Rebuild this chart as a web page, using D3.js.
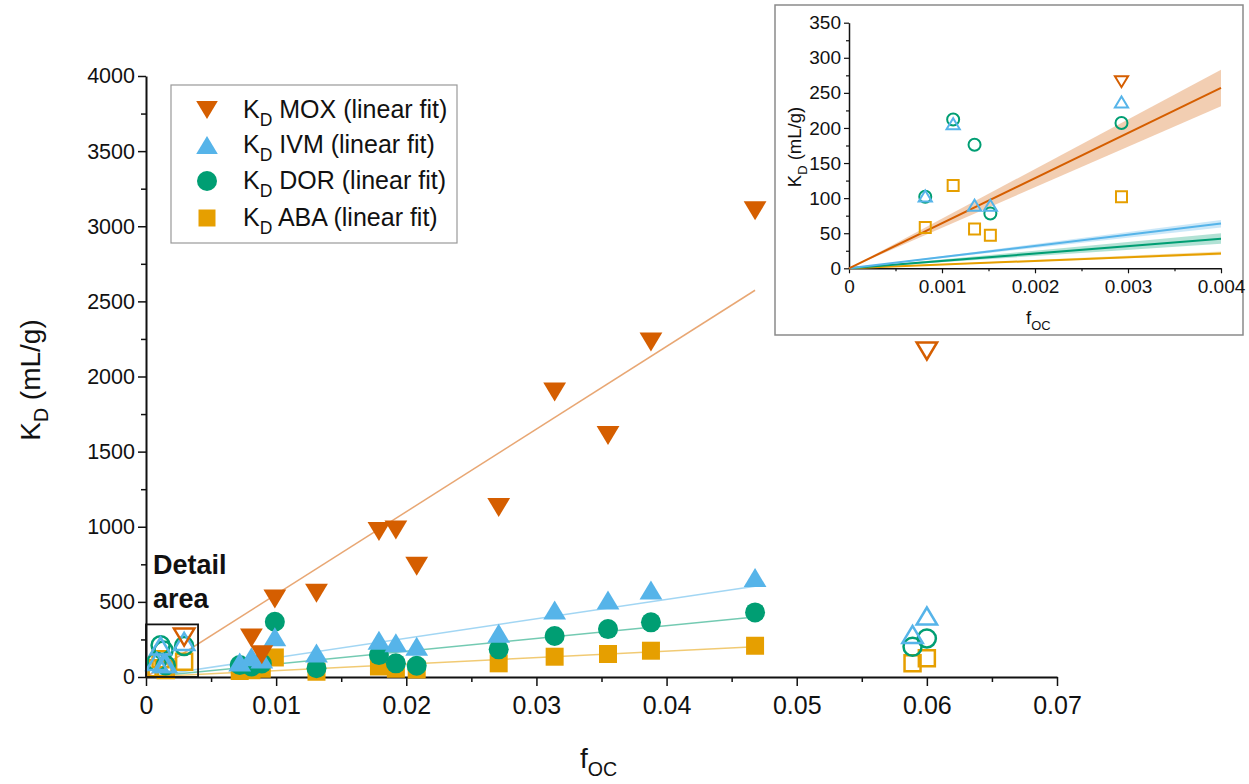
<!DOCTYPE html>
<html>
<head>
<meta charset="utf-8">
<script src="https://cdn.jsdelivr.net/npm/d3@7"></script>
<style>
  body { margin: 0; background: #fff; }
  text { font-family: "Liberation Sans", Arial, sans-serif; fill: #111; }
</style>
</head>
<body>
<div class="chart"></div>
<script>
// ---- data ----
const compounds = ['MOX', 'IVM', 'DOR', 'ABA'];
const colors = ['#D55E00', '#56B4E9', '#009E73', '#E69F00'];
const shapes = ['down', 'up', 'circle', 'square'];

// filled points used for the fit
const foc = [0.0072, 0.0081, 0.0089, 0.0099, 0.0131, 0.0179, 0.0192, 0.0208, 0.0271, 0.0314, 0.0355, 0.0388, 0.0468];
const kdMOX = [null, 260, 148, 519, 558, 968, 978, 737, 1128, 1897, 1608, 2230, 3103];
const kdIVM = [100, 135, 120, 268, 160, 244, 228, 204, 291, 446, 512, 579, 662];
const kdDOR = [80, 70, 90, 368, 58, 146, 91, 75, 184, 273, 319, 364, 430];
const kdABA = [40, 45, 55, 130, 35, 70, 55, 50, 91, 135, 153, 175, 208];

// open points at high foc (not in the fit)
const focHigh = [0.0589, 0.0600];
const highMOX = [null, 2170];
const highIVM = [283, 406];
const highDOR = [202, 257];
const highABA = [91, 124];

// open points at low foc (detail area / inset)
const focLow = [0.00082, 0.00112, 0.00135, 0.00152, 0.00293];
const lowMOX = [null, null, null, null, 266];
const lowIVM = [103, 206, 90, 90, 237];
const lowDOR = [102, 212, 176, 78, 207];
const lowABA = [58, 118, 56, 47, 102];

// linear fits (through origin) in the main plot: slope, up to fitEnd
const fitSlope = [55000, 12900, 8550, 4300];
const fitEnd = 0.0468;
// inset fits: value at 0.004 and confidence band
const insetFit = [257, 64, 42, 21];
const insetLo = [231, 58, 35, 19];
const insetHi = [283, 69, 50, 24];

const xTicks = [0, 0.01, 0.02, 0.03, 0.04, 0.05, 0.06, 0.07];
const yTicks = [0, 500, 1000, 1500, 2000, 2500, 3000, 3500, 4000];
const xTicksInset = [0, 0.001, 0.002, 0.003, 0.004];
const yTicksInset = [0, 50, 100, 150, 200, 250, 300, 350];

const filled = [kdMOX, kdIVM, kdDOR, kdABA];
const high = [highMOX, highIVM, highDOR, highABA];
const low = [lowMOX, lowIVM, lowDOR, lowABA];

// ---- svg ----
const width = 1249, height = 784;
const svg = d3.select('.chart').append('svg')
    .attr('width', width)
    .attr('height', height);

// marker path centred on bounding box
function marker(shape, s) {
    const p = d3.path();
    if (shape === 'down') {
        const w = s * 1.2, h = s;
        p.moveTo(-w / 2, -h / 2); p.lineTo(w / 2, -h / 2); p.lineTo(0, h / 2); p.closePath();
    } else if (shape === 'up') {
        const w = s * 1.2, h = s;
        p.moveTo(-w / 2, h / 2); p.lineTo(w / 2, h / 2); p.lineTo(0, -h / 2); p.closePath();
    } else if (shape === 'circle') {
        p.arc(0, 0, s / 2, 0, 2 * Math.PI);
    } else {
        p.rect(-s / 2, -s / 2, s, s);
    }
    return p.toString();
}

function pts(xs, ys) {
    return xs.map((d, i) => ({x: d, y: ys[i]})).filter(d => d.y != null);
}

function subText(g, x, y, main, sub, rest, size) {
    const t = g.append('text').attr('x', x).attr('y', y).style('font-size', size + 'px');
    t.append('tspan').text(main);
    t.append('tspan').text(sub).style('font-size', (size * 0.7) + 'px').attr('dy', size * 0.3);
    if (rest) t.append('tspan').text(rest).attr('dy', -size * 0.3);
    return t;
}

// ---- main plot ----
const x = d3.scaleLinear().domain([0, 0.07]).range([146, 1057]);
const y = d3.scaleLinear().domain([0, 4000]).range([677, 76]);

// minor ticks
svg.append('g').attr('transform', `translate(0,${y(0)})`)
    .call(d3.axisBottom(x).tickValues(d3.range(0.005, 0.07, 0.01)).tickSize(5).tickFormat(''))
    .call(g => g.select('.domain').remove())
    .selectAll('line').attr('stroke', '#111').attr('stroke-width', 1.5);
svg.append('g').attr('transform', `translate(${x(0)},0)`)
    .call(d3.axisLeft(y).tickValues(d3.range(250, 4000, 500)).tickSize(5).tickFormat(''))
    .call(g => g.select('.domain').remove())
    .selectAll('line').attr('stroke', '#111').attr('stroke-width', 1.5);

const xAxis = svg.append('g').attr('transform', `translate(0,${y(0)})`)
    .call(d3.axisBottom(x).tickValues(xTicks).tickSize(9).tickSizeOuter(0).tickPadding(10)
        .tickFormat(d => d === 0 ? '0' : d3.format('.2f')(d)));
xAxis.selectAll('text').style('font-size', '25px').attr('fill', '#111');

const yAxis = svg.append('g').attr('transform', `translate(${x(0)},0)`)
    .call(d3.axisLeft(y).tickValues(yTicks).tickSize(8).tickSizeOuter(0).tickPadding(3)
        .tickFormat(d3.format('d')));
yAxis.selectAll('text').style('font-size', '21.5px').attr('fill', '#111');
svg.selectAll('.domain').attr('stroke', '#111').attr('stroke-width', 2);
xAxis.selectAll('line').attr('stroke', '#111').attr('stroke-width', 1.5);
yAxis.selectAll('line').attr('stroke', '#111').attr('stroke-width', 1.5);

// axis titles
const yt = svg.append('g').attr('transform', 'translate(40,380) rotate(-90)');
subText(yt, 0, 0, 'K', 'D', ' (mL/g)', 28).attr('text-anchor', 'middle');
subText(svg, 0, 0, 'f', 'OC', null, 28)
    .attr('x', 580).attr('y', 768);

// fit lines
compounds.forEach((c, i) => {
    svg.append('line')
        .attr('x1', x(0)).attr('y1', y(0))
        .attr('x2', x(fitEnd)).attr('y2', y(fitSlope[i] * fitEnd))
        .attr('stroke', colors[i]).attr('stroke-opacity', 0.55).attr('stroke-width', 1.5);
});

// points: draw ABA first, MOX last
[3, 2, 1, 0].forEach(i => {
    svg.append('g').selectAll('path').data(pts(foc, filled[i])).join('path')
        .attr('d', marker(shapes[i], shapes[i] === 'circle' ? 20 : shapes[i] === 'square' ? 18 : 19))
        .attr('transform', d => `translate(${x(d.x)},${y(d.y)})`)
        .attr('fill', colors[i]);
    svg.append('g').selectAll('path').data(pts(focHigh, high[i]).concat(pts(focLow, low[i]))).join('path')
        .attr('d', marker(shapes[i], shapes[i] === 'circle' ? 18 : shapes[i] === 'square' ? 16 : 17))
        .attr('transform', d => `translate(${x(d.x)},${y(d.y)})`)
        .attr('fill', 'none').attr('stroke', colors[i]).attr('stroke-width', 2.5);
});

// detail area box
svg.append('rect')
    .attr('x', x(0)).attr('y', y(350))
    .attr('width', x(0.004) - x(0)).attr('height', y(0) - y(350))
    .attr('fill', 'none').attr('stroke', '#111').attr('stroke-width', 1.8);
svg.append('text').attr('x', 153).attr('y', 574).text('Detail')
    .style('font-size', '27px').style('font-weight', 'bold');
svg.append('text').attr('x', 153).attr('y', 608).text('area')
    .style('font-size', '27px').style('font-weight', 'bold');

// legend
const leg = svg.append('g');
leg.append('rect').attr('x', 171).attr('y', 85).attr('width', 286).attr('height', 158)
    .attr('fill', '#fff').attr('stroke', '#999').attr('stroke-width', 1.2);
const legRows = [110, 145, 181, 218];
compounds.forEach((c, i) => {
    leg.append('path')
        .attr('d', marker(shapes[i], shapes[i] === 'circle' ? 20 : shapes[i] === 'square' ? 17 : 18))
        .attr('transform', `translate(207,${legRows[i]})`)
        .attr('fill', colors[i]);
    subText(leg, 243, legRows[i] + 8, 'K', 'D', ` ${c} (linear fit)`, 25);
});

// ---- inset ----
const ins = svg.append('g');
ins.append('rect').attr('x', 775).attr('y', 5).attr('width', 468).attr('height', 330)
    .attr('fill', '#fff').attr('stroke', '#8a8a8a').attr('stroke-width', 1.5);

const xi = d3.scaleLinear().domain([0, 0.004]).range([849, 1221]);
const yi = d3.scaleLinear().domain([0, 350]).range([268.3, 22.7]);

ins.append('g').attr('transform', `translate(0,${yi(0)})`)
    .call(d3.axisBottom(xi).tickValues(d3.range(0.0005, 0.004, 0.001)).tickSize(3).tickFormat(''))
    .call(g => g.select('.domain').remove());
ins.append('g').attr('transform', `translate(${xi(0)},0)`)
    .call(d3.axisLeft(yi).tickValues(d3.range(25, 350, 50)).tickSize(3).tickFormat(''))
    .call(g => g.select('.domain').remove());

const xiAxis = ins.append('g').attr('transform', `translate(0,${yi(0)})`)
    .call(d3.axisBottom(xi).tickValues(xTicksInset).tickSize(5).tickSizeOuter(0).tickPadding(6)
        .tickFormat(d => d === 0 ? '0' : d3.format('.3f')(d)));
xiAxis.selectAll('text').style('font-size', '19px').attr('fill', '#111');
const yiAxis = ins.append('g').attr('transform', `translate(${xi(0)},0)`)
    .call(d3.axisLeft(yi).tickValues(yTicksInset).tickSize(5).tickSizeOuter(0).tickPadding(3));
yiAxis.selectAll('text').style('font-size', '19px').attr('fill', '#111');
ins.selectAll('.domain').attr('stroke', '#111').attr('stroke-width', 1.5);
ins.selectAll('.tick line').attr('stroke', '#111').attr('stroke-width', 1.2);

const yti = ins.append('g').attr('transform', 'translate(801,147) rotate(-90)');
subText(yti, 0, 0, 'K', 'D', ' (mL/g)', 18.5).attr('text-anchor', 'middle');
subText(ins, 1026, 324, 'f', 'OC', null, 18.5);

// bands and fit lines
[3, 2, 1, 0].forEach(i => {
    ins.append('path')
        .attr('d', d3.line()([[xi(0), yi(0)], [xi(0.004), yi(insetHi[i])], [xi(0.004), yi(insetLo[i])]]) + 'Z')
        .attr('fill', colors[i]).attr('fill-opacity', 0.3);
    ins.append('line')
        .attr('x1', xi(0)).attr('y1', yi(0))
        .attr('x2', xi(0.004)).attr('y2', yi(insetFit[i]))
        .attr('stroke', colors[i]).attr('stroke-width', 2);
});

[3, 2, 1, 0].forEach(i => {
    ins.append('g').selectAll('path').data(pts(focLow, low[i])).join('path')
        .attr('d', marker(shapes[i], shapes[i] === 'circle' ? 12 : 11))
        .attr('transform', d => `translate(${xi(d.x)},${yi(d.y)})`)
        .attr('fill', 'none').attr('stroke', colors[i]).attr('stroke-width', 2);
});
</script>
</body>
</html>
